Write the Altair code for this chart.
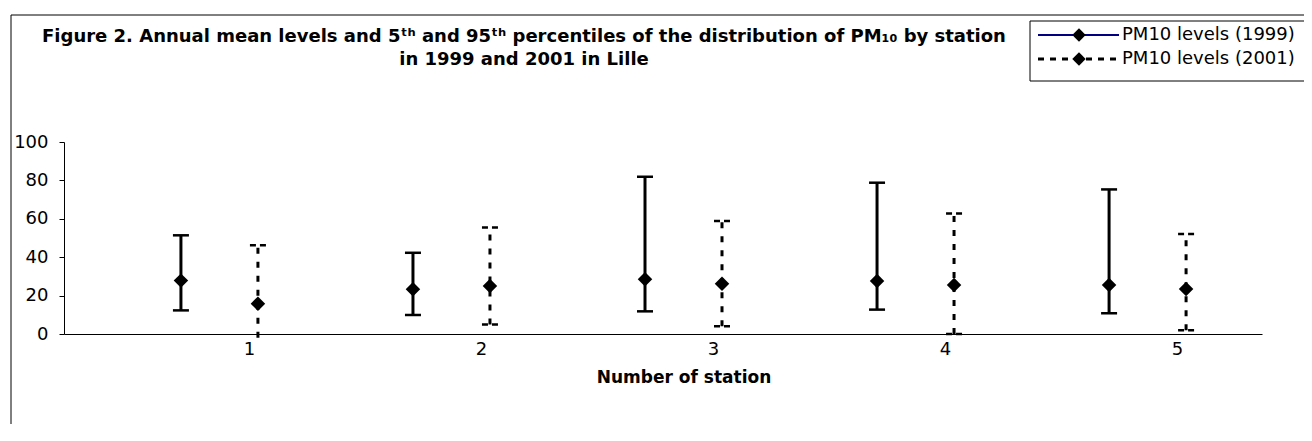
import altair as alt
import pandas as pd

# ---- data ----
stations = [1, 2, 3, 4, 5]
mean_1999 = [27.8, 23.3, 28.5, 27.6, 25.5]
p5_1999 = [12.3, 9.9, 11.8, 12.7, 10.8]
p95_1999 = [51.4, 42.3, 81.9, 78.8, 75.3]
mean_2001 = [15.8, 25.0, 26.2, 25.5, 23.4]
p5_2001 = [-2.0, 5.0, 4.0, 0.0, 1.9]
p95_2001 = [46.2, 55.5, 58.9, 62.8, 52.1]

x_ticks = [1, 2, 3, 4, 5]
y_ticks = [0, 20, 40, 60, 80, 100]
title_line1 = "Figure 2. Annual mean levels and 5ᵗʰ and 95ᵗʰ percentiles of the distribution of PM₁₀ by station"
title_line2 = "in 1999 and 2001 in Lille"
legend_labels = ["PM10 levels (1999)", "PM10 levels (2001)"]
x_title = "Number of station"

FONT = "DejaVu Sans"
W, H = 1198, 192

df99 = pd.DataFrame({"station": stations, "mean": mean_1999, "lo": p5_1999, "hi": p95_1999})
df01 = pd.DataFrame({"station": stations, "mean": mean_2001, "lo": p5_2001, "hi": p95_2001})
one = pd.DataFrame({"a": [0]})

x_scale = alt.Scale(domain=[0.203, 5.366], nice=False, zero=False)
y_scale = alt.Scale(domain=[0, 100], nice=False, zero=False)

x_axis = alt.Axis(values=x_ticks, format="d", ticks=False, grid=False, domainColor="black",
                  domainWidth=1, labelFont=FONT, labelFontSize=18, labelColor="black",
                  labelPadding=6, title=None)
y_axis = alt.Axis(values=y_ticks, grid=False, domainColor="black", domainWidth=1,
                  tickColor="black", tickSize=5, labelFont=FONT, labelFontSize=18,
                  labelColor="black", labelPadding=11, title=None)

X = lambda f: alt.X(f, type="quantitative", scale=x_scale, axis=x_axis)
Y = lambda f: alt.Y(f, type="quantitative", scale=y_scale, axis=y_axis)


def series(df, dx, dash):
    base = alt.Chart(df)
    kw = dict(color="black", strokeWidth=3)
    if dash:
        kw["strokeDash"] = [6, 8]
    vline = base.mark_rule(xOffset=dx, **kw).encode(x=X("station"), y=Y("lo"), y2="hi:Q")
    capkw = dict(kw)
    capkw["strokeWidth"] = 2.5
    if dash:
        capkw["strokeDash"] = [6, 4]
    cap_hi = base.mark_rule(xOffset=dx - 8, x2Offset=dx + 8, **capkw).encode(
        x=X("station"), x2="station:Q", y=Y("hi"))
    cap_lo = base.transform_filter("datum.lo >= 0").mark_rule(
        xOffset=dx - 8, x2Offset=dx + 8, **capkw).encode(
        x=X("station"), x2="station:Q", y=Y("lo"))
    pts = base.mark_point(shape="diamond", filled=True, size=210, color="black",
                          opacity=1, xOffset=dx).encode(x=X("station"), y=Y("mean"))
    return [vline, cap_hi, cap_lo, pts]


layers = []
layers += series(df99, -68, False)
layers += series(df01, 9, True)

# outer frame
frame = alt.Chart(one).mark_rect(fillOpacity=0, stroke="black", strokeWidth=1).encode(
    x=alt.value(-53), x2=alt.value(1400), y=alt.value(-127), y2=alt.value(500))

# title
t1 = alt.Chart(one).mark_text(font=FONT, fontSize=18, fontWeight="bold", align="center",
                              baseline="alphabetic", color="black").encode(
    x=alt.value(460), y=alt.value(-100), text=alt.value(title_line1))
t2 = alt.Chart(one).mark_text(font=FONT, fontSize=18, fontWeight="bold", align="center",
                              baseline="alphabetic", color="black").encode(
    x=alt.value(460), y=alt.value(-77), text=alt.value(title_line2))

# x title
xt = alt.Chart(one).mark_text(font=FONT, fontSize=17, fontWeight="bold", align="center",
                              baseline="alphabetic", color="black").encode(
    x=alt.value(620), y=alt.value(241), text=alt.value(x_title))

# legend
lbox = alt.Chart(one).mark_rect(fill="white", stroke="black", strokeWidth=1).encode(
    x=alt.value(966), x2=alt.value(1400), y=alt.value(-121), y2=alt.value(-61))
l1line = alt.Chart(one).mark_rule(color="#000080", strokeWidth=2).encode(
    x=alt.value(974), x2=alt.value(1055), y=alt.value(-107))
l1pt = alt.Chart(one).mark_point(shape="diamond", filled=True, size=180, color="black",
                                 opacity=1).encode(x=alt.value(1015), y=alt.value(-107))
l1txt = alt.Chart(one).mark_text(font=FONT, fontSize=18, align="left", baseline="middle",
                                 color="black").encode(
    x=alt.value(1058), y=alt.value(-107), text=alt.value(legend_labels[0]))
l2line = alt.Chart(one).mark_rule(color="black", strokeWidth=3, strokeDash=[6, 6]).encode(
    x=alt.value(974), x2=alt.value(1055), y=alt.value(-83))
l2pt = alt.Chart(one).mark_point(shape="diamond", filled=True, size=180, color="black",
                                 opacity=1).encode(x=alt.value(1015), y=alt.value(-83))
l2txt = alt.Chart(one).mark_text(font=FONT, fontSize=18, align="left", baseline="middle",
                                 color="black").encode(
    x=alt.value(1058), y=alt.value(-83), text=alt.value(legend_labels[1]))

chart = alt.layer(frame, *layers, t1, t2, xt, lbox, l1line, l1pt, l1txt, l2line, l2pt, l2txt).properties(
    width=W, height=H,
    padding={"left": 56, "top": 134, "right": 42, "bottom": 90},
    autosize=alt.AutoSizeParams(type="none"),
    background="white",
).configure_view(stroke=None)

chart.save("out.html", embed_options={"renderer": "svg", "actions": False})
